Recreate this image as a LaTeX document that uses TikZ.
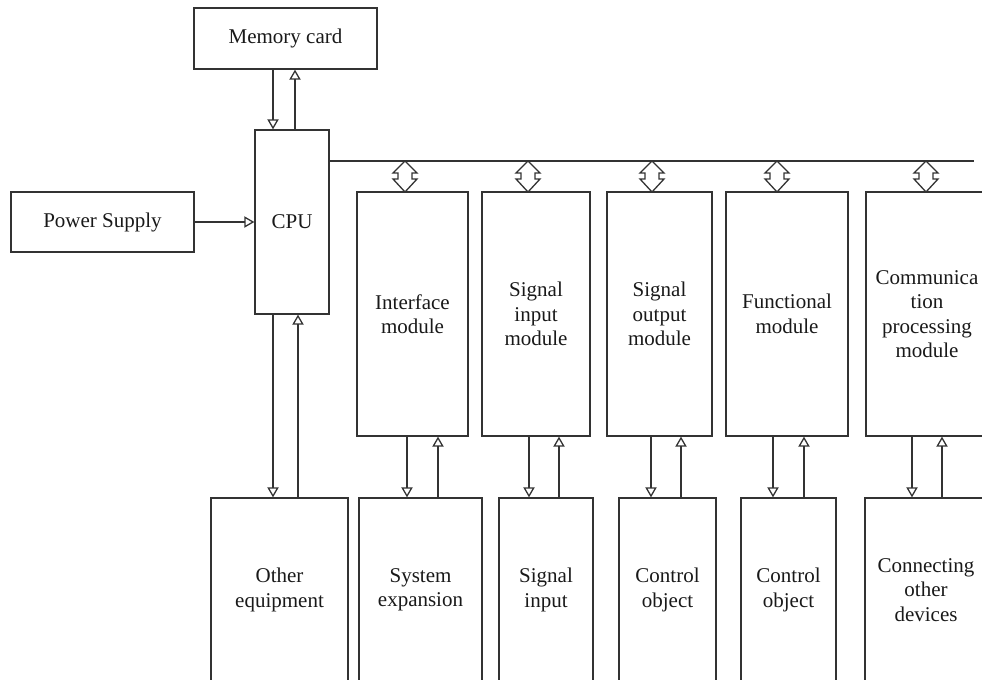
\documentclass[tikz,border=0pt]{standalone}
\usepackage{fontspec}
\setmainfont{Liberation Serif}
\usetikzlibrary{arrows.meta}

\begin{document}
\begin{tikzpicture}[x=0.5pt,y=-0.5pt,
		box/.style={draw=black!80, line width=0.65pt, align=center, inner sep=0pt, text=black!90, font=\fontsize{10.5}{12.25}\selectfont},
		arr/.style={draw=black!80, line width=0.65pt, -{Triangle[open,length=5pt,width=5.6pt]}},
		busarrow/.pic={\draw[draw=black!80, line width=0.65pt, line join=miter] (0,0) -- (-12,12) -- (-7,12) -- (-7,18) -- (-12,18) -- (0,31) -- (12,18) -- (7,18) -- (7,12) -- (12,12) -- cycle;}]
		\useasboundingbox (0,0) rectangle (982,680);
		\clip (0,0) rectangle (982,680);

		\draw (285.5,38.5) node [box, minimum width=91.5pt, minimum height=30.5pt] (mem) {Memory card};
		\draw (102.5,222) node [box, minimum width=91.5pt, minimum height=30pt] (power) {Power Supply};
		\draw (292,222) node [box, minimum width=37pt, minimum height=92pt] (cpu) {CPU};

		\draw (412.5,314) node [box, minimum width=55.5pt, minimum height=122pt] (m1) {Interface\\module};
		\draw (536,314) node [box, minimum width=54pt, minimum height=122pt] (m2) {Signal\\input\\module};
		\draw (659.5,314) node [box, minimum width=52.5pt, minimum height=122pt] (m3) {Signal\\output\\module};
		\draw (787,314) node [box, minimum width=61pt, minimum height=122pt] (m4) {Functional\\module};
		\draw (927,314) node [box, minimum width=61pt, minimum height=122pt] (m5) {Communica\\tion\\processing\\module};

		\draw (279.5,590) node [box, minimum width=68.5pt, minimum height=92pt] (b0) {Other\\equipment};
		\draw (420.5,590) node [box, minimum width=61.5pt, minimum height=92pt] (b1) {System\\expansion};
		\draw (546,590) node [box, minimum width=47pt, minimum height=92pt] (b2) {Signal\\input};
		\draw (667.5,590) node [box, minimum width=48.5pt, minimum height=92pt] (b3) {Control\\object};
		\draw (788.5,590) node [box, minimum width=47.5pt, minimum height=92pt] (b4) {Control\\object};
		\draw (926,590) node [box, minimum width=61pt, minimum height=92pt] (b5) {Connecting\\other\\devices};

		% system bus
		\coordinate (busend) at (974,161);
		\draw [draw=black!80, line width=0.65pt] (cpu.east |- busend) -- (busend);
		\pic at (405,161) {busarrow};
		\pic at (528,161) {busarrow};
		\pic at (652,161) {busarrow};
		\pic at (777,161) {busarrow};
		\pic at (926,161) {busarrow};

		\draw
			(273,0 |- mem.south) edge [arr] (273,0 |- cpu.north)
			(295,0 |- cpu.north) edge [arr] (295,0 |- mem.south)
			(power) edge [arr] (cpu)
			(273,0 |- cpu.south) edge [arr] (273,0 |- b0.north)
			(298,0 |- b0.north) edge [arr] (298,0 |- cpu.south)
			(407,0 |- m1.south) edge [arr] (407,0 |- b1.north)
			(438,0 |- b1.north) edge [arr] (438,0 |- m1.south)
			(529,0 |- m2.south) edge [arr] (529,0 |- b2.north)
			(559,0 |- b2.north) edge [arr] (559,0 |- m2.south)
			(651,0 |- m3.south) edge [arr] (651,0 |- b3.north)
			(681,0 |- b3.north) edge [arr] (681,0 |- m3.south)
			(773,0 |- m4.south) edge [arr] (773,0 |- b4.north)
			(804,0 |- b4.north) edge [arr] (804,0 |- m4.south)
			(912,0 |- m5.south) edge [arr] (912,0 |- b5.north)
			(942,0 |- b5.north) edge [arr] (942,0 |- m5.south)
		;
	\end{tikzpicture}
\end{document}
